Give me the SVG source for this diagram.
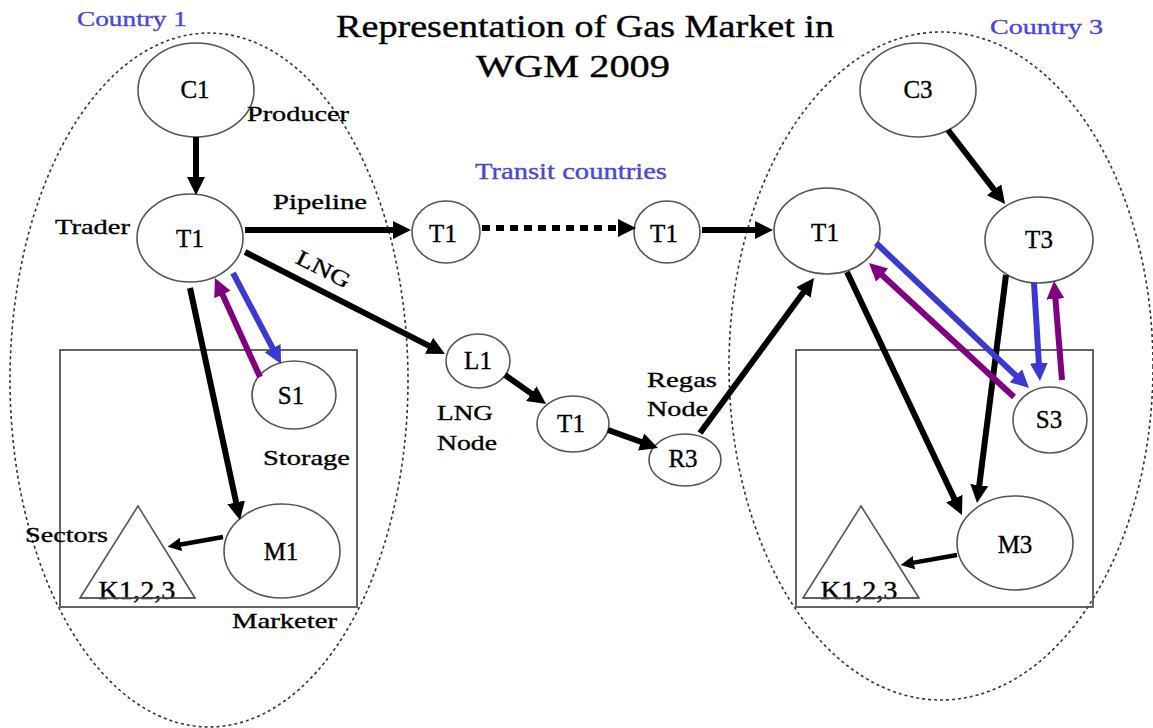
<svg xmlns="http://www.w3.org/2000/svg" width="1153" height="728" viewBox="0 0 1153 728">
<style>
text{font-family:"Liberation Serif","Times New Roman",serif;fill:#000;stroke:#000;stroke-width:0.35}
.t{font-size:25px}
.lb{font-size:22px}
.blue{fill:#4646d8;stroke:#4646d8}
.region{fill:none;stroke:#333;stroke-width:1.6;stroke-dasharray:3,3}
.node{fill:#fff;stroke:#555;stroke-width:1.6}
.box{fill:none;stroke:#555;stroke-width:1.8}
.a{fill:none;stroke:#000;stroke-width:6}
.thin{stroke-width:4.5}
.ab{fill:none;stroke:#3a3ad2;stroke-width:6}
.ap{fill:none;stroke:#800080;stroke-width:6}
</style>
<defs>
<marker id="hk" viewBox="0 0 10 10" refX="2.2" refY="5" markerWidth="3" markerHeight="3.6" orient="auto" markerUnits="strokeWidth"><path d="M0,0 L10,5 L0,10 z" fill="#000"/></marker>
<marker id="hb" viewBox="0 0 10 10" refX="2.2" refY="5" markerWidth="3" markerHeight="3.6" orient="auto" markerUnits="strokeWidth"><path d="M0,0 L10,5 L0,10 z" fill="#3a3ad2"/></marker>
<marker id="hp" viewBox="0 0 10 10" refX="2.2" refY="5" markerWidth="3" markerHeight="3.6" orient="auto" markerUnits="strokeWidth"><path d="M0,0 L10,5 L0,10 z" fill="#800080"/></marker>
</defs>
<rect width="1153" height="728" fill="#fff"/>

<g id="title">
<text x="585" y="37" text-anchor="middle" font-size="31" textLength="498" lengthAdjust="spacingAndGlyphs">Representation of Gas Market in</text>
<text x="573" y="77" text-anchor="middle" font-size="31" textLength="194" lengthAdjust="spacingAndGlyphs">WGM 2009</text>
</g>

<g id="country1">
<ellipse class="region" cx="209" cy="380" rx="199" ry="347"/>
<text class="blue" x="77" y="26" font-size="22" textLength="110" lengthAdjust="spacingAndGlyphs">Country 1</text>
</g>
<g id="country3">
<ellipse class="region" cx="941" cy="366" rx="212" ry="334"/>
<text class="blue" x="990" y="34" font-size="22" textLength="113" lengthAdjust="spacingAndGlyphs">Country 3</text>
</g>
<g id="transit-label">
<text class="blue" x="475" y="179" font-size="23" textLength="192" lengthAdjust="spacingAndGlyphs">Transit countries</text>
</g>

<g id="box1"><rect class="box" x="60" y="350" width="297" height="257"/></g>
<g id="box3"><rect class="box" x="796" y="350" width="297" height="257"/></g>

<g id="C1"><ellipse class="node" cx="196" cy="90" rx="58" ry="47"/><text class="t" x="195" y="98" text-anchor="middle">C1</text></g>
<g id="T1-left"><ellipse class="node" cx="190" cy="238" rx="53" ry="44"/><text class="t" x="190" y="247" text-anchor="middle">T1</text></g>
<g id="S1"><ellipse class="node" cx="294" cy="395" rx="42" ry="34"/><text class="t" x="291" y="404" text-anchor="middle">S1</text></g>
<g id="M1"><ellipse class="node" cx="282" cy="551" rx="58" ry="47"/><text class="t" x="281" y="560" text-anchor="middle">M1</text></g>
<g id="K-left"><polygon class="node" points="138,506 80,598 195,598"/><text class="t" x="137" y="599" text-anchor="middle" textLength="77" lengthAdjust="spacingAndGlyphs">K1,2,3</text><line x1="80" y1="598" x2="195" y2="598" stroke="#555" stroke-width="1.6"/></g>

<g id="T1-transit-a"><ellipse class="node" cx="446" cy="232" rx="34" ry="31"/><text class="t" x="443" y="242" text-anchor="middle">T1</text></g>
<g id="T1-transit-b"><ellipse class="node" cx="667" cy="232" rx="33" ry="31"/><text class="t" x="664" y="242" text-anchor="middle">T1</text></g>
<g id="L1"><ellipse class="node" cx="478" cy="361" rx="32" ry="27"/><text class="t" x="478" y="369" text-anchor="middle">L1</text></g>
<g id="T1-lng"><ellipse class="node" cx="573" cy="424" rx="36" ry="28"/><text class="t" x="571" y="432" text-anchor="middle">T1</text></g>
<g id="R3"><ellipse class="node" cx="685" cy="460" rx="36" ry="26"/><text class="t" x="683" y="467" text-anchor="middle">R3</text></g>

<g id="C3"><ellipse class="node" cx="918" cy="90" rx="58" ry="47"/><text class="t" x="918" y="98" text-anchor="middle">C3</text></g>
<g id="T1-right"><ellipse class="node" cx="827" cy="231" rx="53" ry="43"/><text class="t" x="825" y="241" text-anchor="middle">T1</text></g>
<g id="T3"><ellipse class="node" cx="1039" cy="240" rx="54" ry="43"/><text class="t" x="1039" y="248" text-anchor="middle">T3</text></g>
<g id="S3"><ellipse class="node" cx="1050" cy="420" rx="37" ry="33"/><text class="t" x="1049" y="428" text-anchor="middle">S3</text></g>
<g id="M3"><ellipse class="node" cx="1015" cy="543" rx="58" ry="47"/><text class="t" x="1015" y="553" text-anchor="middle">M3</text></g>
<g id="K-right"><polygon class="node" points="861,506 803,598 919,598"/><text class="t" x="859" y="599" text-anchor="middle" textLength="77" lengthAdjust="spacingAndGlyphs">K1,2,3</text><line x1="803" y1="598" x2="919" y2="598" stroke="#555" stroke-width="1.6"/></g>

<g id="labels">
<text class="lb" x="247" y="121" textLength="102" lengthAdjust="spacingAndGlyphs">Producer</text>
<text class="lb" x="55" y="234" textLength="75" lengthAdjust="spacingAndGlyphs">Trader</text>
<text class="lb" x="273" y="209" textLength="94" lengthAdjust="spacingAndGlyphs">Pipeline</text>
<text class="lb" x="322" y="276" text-anchor="middle" transform="rotate(27 322 272)" textLength="58" lengthAdjust="spacingAndGlyphs">LNG</text>
<text class="lb" x="263" y="465" textLength="87" lengthAdjust="spacingAndGlyphs">Storage</text>
<text class="lb" x="25" y="542" textLength="83" lengthAdjust="spacingAndGlyphs">Sectors</text>
<text class="lb" x="232" y="628" textLength="105" lengthAdjust="spacingAndGlyphs">Marketer</text>
<text class="lb" x="437" y="420" textLength="56" lengthAdjust="spacingAndGlyphs">LNG</text>
<text class="lb" x="437" y="450" textLength="60" lengthAdjust="spacingAndGlyphs">Node</text>
<text class="lb" x="647" y="387" textLength="70" lengthAdjust="spacingAndGlyphs">Regas</text>
<text class="lb" x="647" y="416" textLength="61" lengthAdjust="spacingAndGlyphs">Node</text>
</g>

<g id="connectors">
<line class="a" x1="196" y1="137" x2="196" y2="181" marker-end="url(#hk)"/>
<line class="a" x1="245" y1="230" x2="397" y2="230" marker-end="url(#hk)"/>
<line class="a" x1="482" y1="228" x2="622" y2="228" stroke-dasharray="8,6" marker-end="url(#hk)"/>
<line class="a" x1="702" y1="230" x2="759" y2="230" marker-end="url(#hk)"/>
<line class="a" x1="245" y1="252" x2="432.5" y2="347.6" marker-end="url(#hk)"/>
<line class="a" x1="505" y1="375" x2="534.6" y2="395.9" marker-end="url(#hk)"/>
<line class="a" x1="608" y1="430" x2="644.8" y2="443.3" marker-end="url(#hk)"/>
<line class="a" x1="700" y1="433" x2="805.7" y2="289.3" marker-end="url(#hk)"/>
<line class="a" x1="948" y1="130" x2="996.5" y2="192.9" marker-end="url(#hk)"/>
<line class="a" x1="190" y1="288" x2="237" y2="506.3" marker-end="url(#hk)"/>
<line class="a thin" x1="223" y1="537" x2="178" y2="545" marker-end="url(#hk)"/>
<line class="ab" x1="233" y1="273" x2="274.5" y2="351.6" marker-end="url(#hb)"/>
<line class="ap" x1="260" y1="377" x2="220.8" y2="290.8" marker-end="url(#hp)"/>
<line class="a" x1="847" y1="272" x2="956" y2="502.3" marker-end="url(#hk)"/>
<line class="a" x1="1006" y1="275" x2="978.8" y2="489.1" marker-end="url(#hk)"/>
<line class="a thin" x1="957" y1="555" x2="911" y2="563.1" marker-end="url(#hk)"/>
<line class="ab" x1="876" y1="243" x2="1018.8" y2="378.4" marker-end="url(#hb)"/>
<line class="ap" x1="1014" y1="397" x2="879.3" y2="272.5" marker-end="url(#hp)"/>
<line class="ab" x1="1034" y1="283" x2="1039.1" y2="367" marker-end="url(#hb)"/>
<line class="ap" x1="1062" y1="380" x2="1055.1" y2="295" marker-end="url(#hp)"/>
</g>
</svg>
